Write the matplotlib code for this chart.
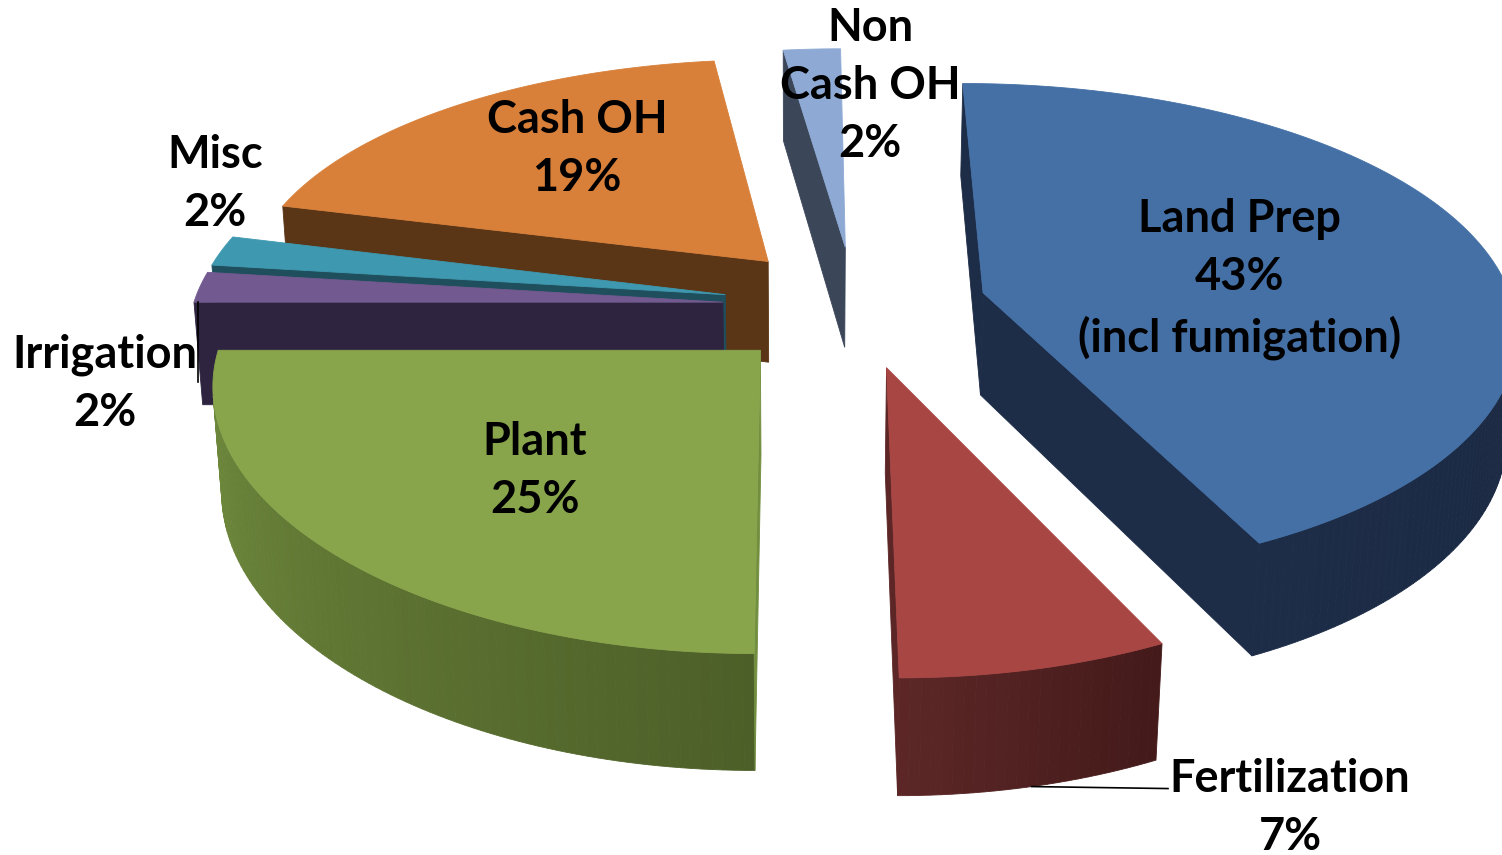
import numpy as np
import matplotlib.pyplot as plt
from matplotlib.patches import Polygon
from matplotlib.colors import to_rgb

# data
names = ["Land Prep", "Fertilization", "Plant", "Irrigation", "Misc", "Cash OH", "Non\nCash OH"]
shares = [43, 7, 25, 2, 2, 19, 2]
notes = ["(incl fumigation)", "", "", "", "", "", ""]

# style
top_colors = ["#4470a6", "#a84644", "#89a54c", "#725a90", "#3e98b0", "#d8803a", "#8eaad4"]
wall_light = ["#1d2c47", "#5c2626", "#728e3f", "#2e243f", "#1f4e5c", "#5a3516", "#3b4659"]
wall_dark = ["#1b2942", "#441a1a", "#4d5f28", "#2e243f", "#1f4e5c", "#5a3516", "#3b4659"]
explode = [0.25, 0.25, 0.25, 0.25, 0.25, 0.25, 0.25]
label_xy = [(1240, 279), (1290, 808), (535, 471), (105, 384), (215, 184), (577, 149), (870, 86)]

# camera (stronger perspective vertically than horizontally, like the source chart)
elev = np.radians(27.4)
D = 6.0
Dx = 7.0
xc = -0.1
S = 530
cx, cy = 855, 306
depth = 0.222
se, ce = np.sin(elev), np.cos(elev)
cam = np.array([xc, -D * ce, D * se])


def project(x, y, z):
    pv = -y * ce + z * se
    ky = D / (D - pv)
    kx = Dx / (Dx - pv)
    return cx + S * ((x - xc) * kx + xc), cy - S * (y * se + z * ce) * ky


def draw(ax, pts, color, cull=True):
    xy = np.array([project(*p) for p in pts])
    x, y = xy[:, 0], -xy[:, 1]
    area = np.sum(x * np.roll(y, -1) - np.roll(x, -1) * y)
    if cull and area <= 0:
        return
    ax.add_patch(Polygon(xy, closed=True, facecolor=color, edgecolor=color, lw=0.6))


fig = plt.figure(figsize=(15.02, 8.55), dpi=100)
ax = fig.add_axes([0, 0, 1, 1])
ax.set_xlim(0, 1502)
ax.set_ylim(855, 0)
ax.axis("off")

cum = np.concatenate([[0], np.cumsum(shares)])
slices = []
for i, v in enumerate(shares):
    a1 = np.radians(90 - 3.6 * cum[i])
    a2 = np.radians(90 - 3.6 * cum[i + 1])
    mid = (a1 + a2) / 2
    ox, oy = explode[i] * np.cos(mid), explode[i] * np.sin(mid)
    cen = np.array([ox + 0.5 * np.cos(mid), oy + 0.5 * np.sin(mid), 0])
    slices.append((np.linalg.norm(cam - cen), i, a1, a2, mid, ox, oy))

# far slices first
slices.sort(reverse=True)
for _, i, a1, a2, mid, ox, oy in slices:
    angs = np.linspace(a2, a1, max(int(np.degrees(a1 - a2)), 2) + 1)

    def rim(a, z):
        return (ox + np.cos(a), oy + np.sin(a), z)

    # outer wall, shaded across its visible part
    vis = [(angs[j], angs[j + 1]) for j in range(len(angs) - 1) if np.sin((angs[j] + angs[j + 1]) / 2) < 0.05]
    cl, cd = np.array(to_rgb(wall_light[i])), np.array(to_rgb(wall_dark[i]))
    for j, (b1, b2) in enumerate(vis):
        t = j / max(len(vis) - 1, 1)
        draw(ax, [rim(b1, -depth), rim(b2, -depth), rim(b2, 0), rim(b1, 0)], cl * (1 - t) + cd * t)
    # radial faces
    draw(ax, [rim(a1, -depth), (ox, oy, -depth), (ox, oy, 0), rim(a1, 0)], wall_light[i])
    draw(ax, [(ox, oy, -depth), rim(a2, -depth), rim(a2, 0), (ox, oy, 0)], wall_light[i])
    # top
    draw(ax, [(ox, oy, 0)] + [rim(a, 0) for a in angs], top_colors[i], cull=False)

# leader lines
for _, i, a1, a2, mid, ox, oy in slices:
    if names[i] == "Fertilization":
        x0, y0 = project(ox + np.cos(mid), oy + np.sin(mid), -depth)
        ax.plot([x0, label_xy[i][0] - 122], [y0, y0 + 2], color="black", lw=1.2)
    if names[i] == "Irrigation":
        x0, y0 = project(ox + np.cos(a1), oy + np.sin(a1), 0)
        ax.plot([x0 + 4, x0 + 4], [y0, y0 + 80], color="black", lw=1.2)

for i, name in enumerate(names):
    txt = f"{name}\n{shares[i]}%"
    if notes[i]:
        txt += "\n" + notes[i]
    ax.text(label_xy[i][0], label_xy[i][1], txt, ha="center", va="center",
            fontsize=32.5, fontweight="bold", family=["Lato", "DejaVu Sans"],
            linespacing=1.47, color="black")

fig.savefig("out.png", dpi=100)
